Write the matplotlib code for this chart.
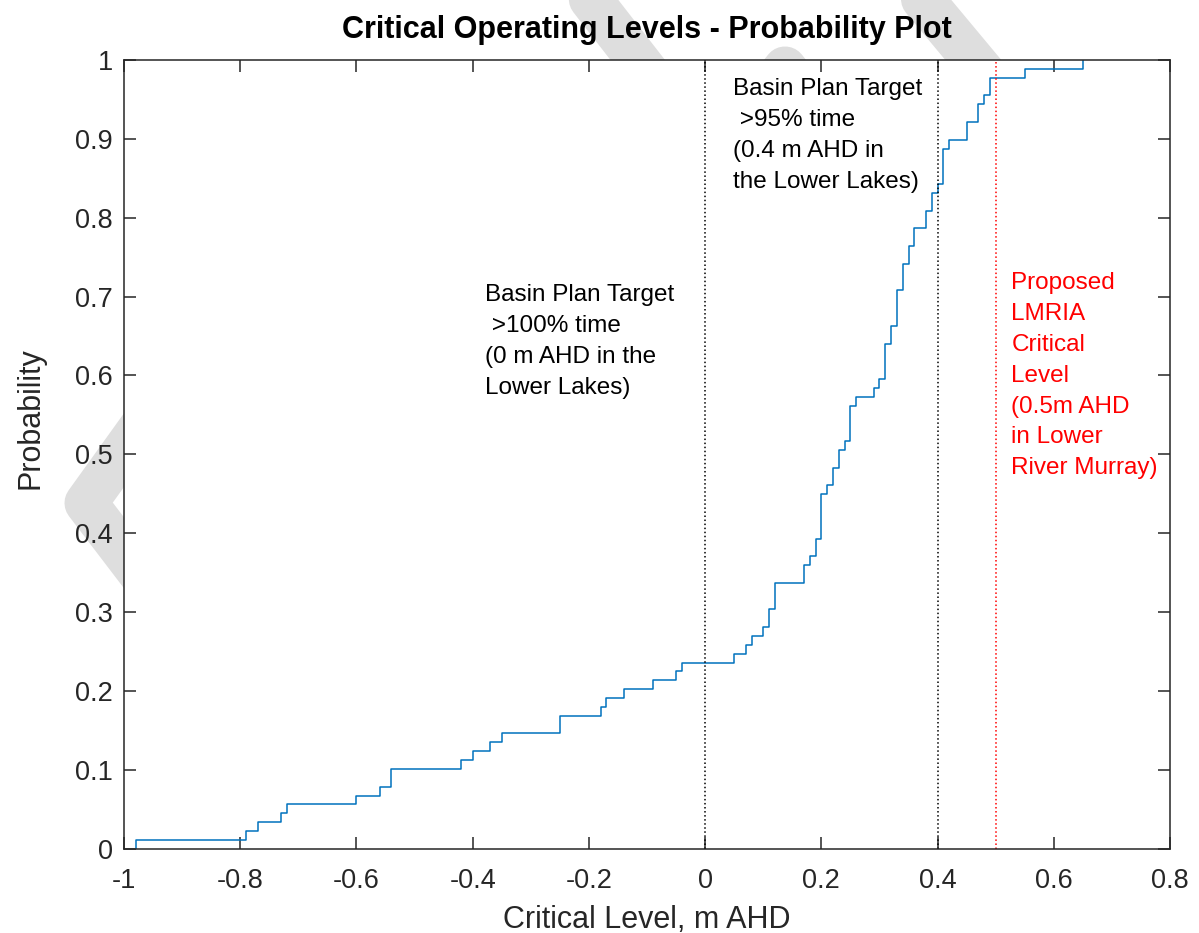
import numpy as np
import matplotlib.pyplot as plt
from matplotlib.lines import Line2D

plt.rcParams['font.family'] = ['Liberation Sans', 'DejaVu Sans']

# Critical levels (m AHD), one entry per year of record, sorted
levels = [-0.98, -0.79, -0.77, -0.73, -0.72, -0.60, -0.56, -0.54, -0.54,
          -0.42, -0.40, -0.37, -0.35, -0.25, -0.25, -0.18, -0.17, -0.14,
          -0.09, -0.05, -0.04, 0.05, 0.07, 0.08, 0.10, 0.11, 0.11,
          0.12, 0.12, 0.12, 0.17, 0.17, 0.18, 0.19, 0.19,
          0.20, 0.20, 0.20, 0.20, 0.20, 0.21, 0.22, 0.22, 0.23, 0.23,
          0.24, 0.25, 0.25, 0.25, 0.25, 0.26, 0.29, 0.30,
          0.31, 0.31, 0.31, 0.31, 0.32, 0.32, 0.33, 0.33, 0.33, 0.33,
          0.34, 0.34, 0.34, 0.35, 0.35, 0.36, 0.36, 0.38, 0.38,
          0.39, 0.39, 0.40, 0.41, 0.41, 0.41, 0.41, 0.42, 0.45, 0.45,
          0.47, 0.47, 0.48, 0.49, 0.49, 0.55, 0.65]

target_lines = [0.0, 0.4]
lmria_line = 0.5

xticks = np.arange(-1, 0.81, 0.2)
yticks = np.arange(0, 1.01, 0.1)

axcol = '#262626'
W, H = 1199, 933

fig = plt.figure(figsize=(W / 100, H / 100), dpi=100)
ax = fig.add_axes([124 / W, 1 - 848.7 / H, 1046 / W, 788.7 / H])

# faint background watermark strokes (pixel coords, behind the axes)
def band(px, py):
    fig.add_artist(Line2D([p / W for p in px], [1 - q / H for q in py],
                          transform=fig.transFigure, color='#dedede', lw=31,
                          solid_capstyle='round', solid_joinstyle='round',
                          zorder=-5))

band([560, 700], [-40, 140])
band([890, 1040], [-40, 140])
band([740, 785, 830], [125, 68, 125])
band([160, 86, 160], [400, 503, 600])

ax.ecdf(levels, color='#0072BD', lw=1.1)

for xv in target_lines:
    ax.axvline(xv, color='k', ls=':', lw=1.1)
ax.axvline(lmria_line, color='red', ls=':', lw=1.1)

txt = dict(fontsize=17.5, va='top', ha='left', linespacing=1.52)
ax.text(-0.379, 0.716, 'Basin Plan Target\n >100% time\n(0 m AHD in the\nLower Lakes)',
        color='k', **txt)
ax.text(0.048, 0.977, 'Basin Plan Target\n >95% time\n(0.4 m AHD in\nthe Lower Lakes)',
        color='k', **txt)
ax.text(0.527, 0.731, 'Proposed\nLMRIA\nCritical\nLevel\n(0.5m AHD\nin Lower\nRiver Murray)',
        color='red', **txt)

ax.set_xlim(-1, 0.8)
ax.set_ylim(0, 1)
ax.set_xticks(xticks)
ax.set_xticklabels(['-1', '-0.8', '-0.6', '-0.4', '-0.2', '0', '0.2', '0.4', '0.6', '0.8'])
ax.set_yticks(yticks)
ax.set_yticklabels(['0', '0.1', '0.2', '0.3', '0.4', '0.5', '0.6', '0.7', '0.8', '0.9', '1'])

ax.tick_params(direction='in', length=8.5, width=1.1, top=True, right=True,
               labelsize=19.5, colors=axcol, pad=8)
ax.tick_params(axis='x', pad=14)
for s in ax.spines.values():
    s.set_color(axcol)
    s.set_linewidth(1.1)

ax.set_xlabel('Critical Level, m AHD', fontsize=22, color=axcol, labelpad=8)
ax.set_ylabel('Probability', fontsize=22, color=axcol)
ax.yaxis.set_label_coords(-0.075, 0.546)
ax.set_title('Critical Operating Levels - Probability Plot', fontsize=22,
             fontweight='bold', pad=16)

fig.savefig('out.png', dpi=100)
